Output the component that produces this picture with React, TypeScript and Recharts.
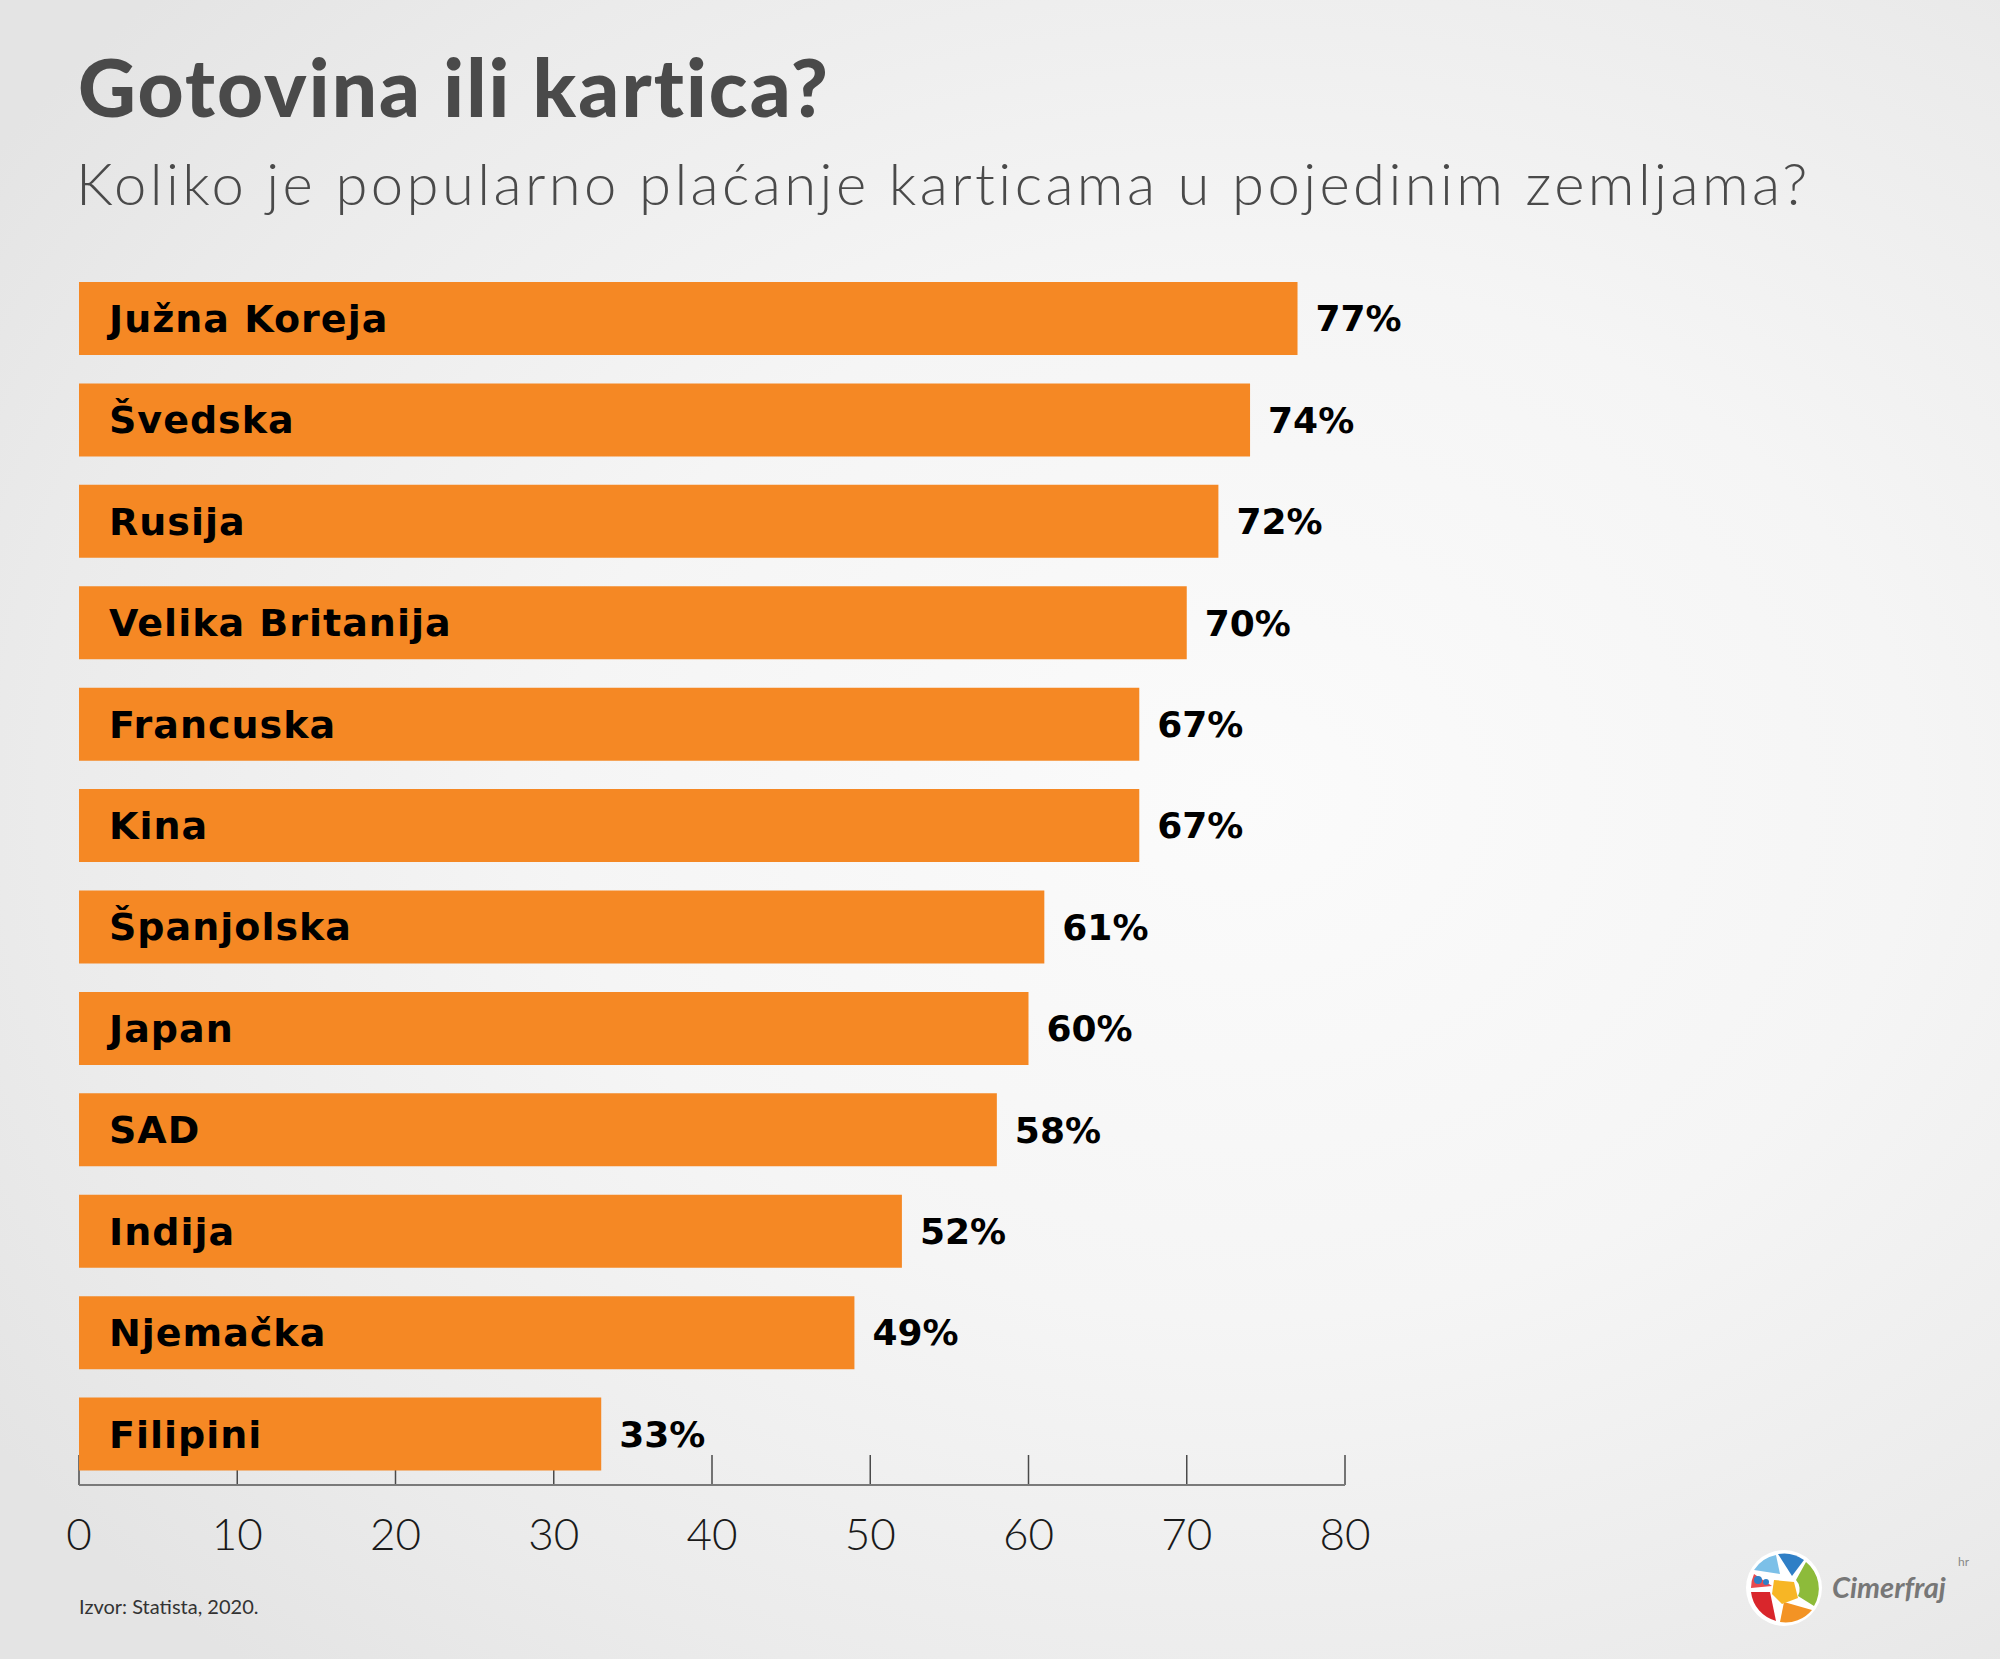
import { BarChart, Bar, XAxis, YAxis, LabelList, CartesianGrid } from 'recharts'

const countries = [
  'Južna Koreja',
  'Švedska',
  'Rusija',
  'Velika Britanija',
  'Francuska',
  'Kina',
  'Španjolska',
  'Japan',
  'SAD',
  'Indija',
  'Njemačka',
  'Filipini',
]
const shares = [77, 74, 72, 70, 67, 67, 61, 60, 58, 52, 49, 33]
const xTicks = [0, 10, 20, 30, 40, 50, 60, 70, 80]

const title = 'Gotovina ili kartica?'
const subtitle = 'Koliko je popularno plaćanje karticama u pojedinim zemljama?'
const source = 'Izvor: Statista, 2020.'

const data = countries.map((country, i) => ({ country, share: shares[i] }))

const ORANGE = '#F58824'
const labelFont = '"DejaVu Sans", sans-serif'

// numbers only; the short tick marks come from the grid so bars cover them
function AxisTick({ x, y, payload }: any) {
  return (
    <text
      x={x}
      y={y + 48}
      textAnchor="middle"
      dominantBaseline="central"
      fill="#1a1a1a"
      fontFamily="Lato, sans-serif"
      fontWeight={300}
      fontSize={44}
    >
      {payload.value}
    </text>
  )
}

// grid line turned into a short mark pointing up from the axis
function TickMark(props: any) {
  const { x1, x2, y2 } = props
  return <line x1={x1} x2={x2} y1={y2 - 30} y2={y2} stroke="#4a4a4a" strokeWidth={1.5} />
}

function Logo() {
  return (
    <svg width={240} height={100} style={{ position: 'absolute', left: 1740, top: 1540 }}>
      <g transform="translate(44,48)">
        <circle r={38} fill="#fff" />
        <path d="M -30 -18 A 34 34 0 0 1 -8 -33 L -4 -14 Z" fill="#7cc0e8" />
        <path d="M -6 -34 A 34 34 0 0 1 20 -28 L 8 -12 Z" fill="#2f7fc6" />
        <path d="M 22 -26 A 34 34 0 0 1 30 18 L 14 8 A 14 14 0 0 0 12 -8 Z" fill="#8dbb3a" />
        <path d="M 28 22 A 34 34 0 0 1 -4 34 L 0 14 Z" fill="#f39324" />
        <path d="M -8 33 A 34 34 0 0 1 -33 4 L -14 4 Z" fill="#d9262c" />
        <path d="M -33 0 A 34 34 0 0 1 -30 -14 L -12 -2 Z" fill="#e84a4f" />
        <path d="M -10 -8 L 10 -6 L 14 10 L -2 16 L -12 6 Z" fill="#f7b625" />
        <circle cx={-26} cy={-8} r={4} fill="#2f7fc6" />
        <circle cx={-18} cy={-6} r={3} fill="#2f7fc6" />
      </g>
      <text
        x={92}
        y={58}
        fill="#777"
        fontFamily="Lato, sans-serif"
        fontStyle="italic"
        fontWeight={700}
        fontSize={29}
      >
        Cimerfraj
      </text>
      <text x={218} y={26} fill="#888" fontFamily="Lato, sans-serif" fontSize={12}>
        hr
      </text>
    </svg>
  )
}

export default function App() {
  return (
    <div
      style={{
        position: 'absolute',
        left: 0,
        top: 0,
        width: 2000,
        height: 1659,
        overflow: 'hidden',
        background:
          'radial-gradient(ellipse 75% 70% at 62% 48%, #fbfbfb 0%, #f5f5f5 45%, #ebebeb 80%, #e4e4e4 100%)',
      }}
    >
      <div
        style={{
          position: 'absolute',
          left: 78,
          top: 38,
          fontFamily: 'Lato, sans-serif',
          fontWeight: 900,
          fontSize: 80,
          letterSpacing: 2.1,
          color: '#4a4a4a',
          whiteSpace: 'nowrap',
          lineHeight: 1.2,
        }}
      >
        {title}
      </div>
      <div
        style={{
          position: 'absolute',
          left: 76,
          top: 148,
          fontFamily: 'Lato, sans-serif',
          fontWeight: 300,
          fontSize: 58,
          letterSpacing: 3.4,
          color: '#4a4a4a',
          whiteSpace: 'nowrap',
          lineHeight: 1.2,
        }}
      >
        {subtitle}
      </div>

      <div style={{ position: 'absolute', left: 0, top: 0 }}>
        <BarChart
          width={2000}
          height={1659}
          layout="vertical"
          data={data}
          margin={{ top: 268, right: 655, bottom: 114, left: 79 }}
          barSize={73}
        >
          <CartesianGrid horizontal={false} vertical={<TickMark />} />
          <XAxis
            type="number"
            domain={[0, 80]}
            ticks={xTicks}
            interval={0}
            height={60}
            tickSize={0}
            tickMargin={0}
            tickLine={false}
            axisLine={{ stroke: '#7a7a7a', strokeWidth: 2 }}
            tick={<AxisTick />}
          />
          <YAxis
            type="category"
            dataKey="country"
            width={0}
            tick={false}
            tickLine={false}
            axisLine={{ stroke: '#7a7a7a', strokeWidth: 2 }}
          />
          <Bar dataKey="share" fill={ORANGE} isAnimationActive={false}>
            <LabelList
              dataKey="country"
              position="insideLeft"
              offset={30}
              fill="#000"
              fontFamily={labelFont}
              fontWeight={700}
              fontSize={38}
              letterSpacing={1}
            />
            <LabelList
              dataKey="share"
              position="right"
              offset={18}
              fill="#000"
              fontFamily={labelFont}
              fontWeight={700}
              fontSize={36}
              formatter={(v: any) => `${v}%`}
            />
          </Bar>
        </BarChart>
      </div>

      <div
        style={{
          position: 'absolute',
          left: 79,
          top: 1594,
          fontFamily: 'Lato, sans-serif',
          fontSize: 20,
          color: '#333',
          whiteSpace: 'nowrap',
        }}
      >
        {source}
      </div>
      <Logo />
    </div>
  )
}
